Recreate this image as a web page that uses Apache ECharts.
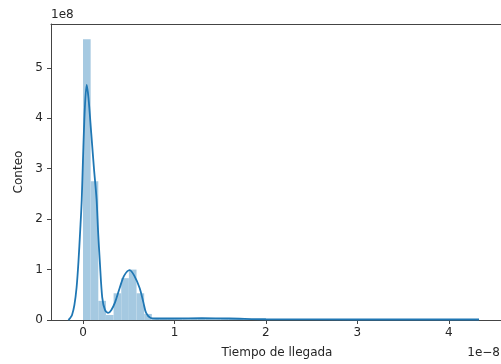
<!DOCTYPE html>
<html>
<head>
<meta charset="utf-8">
<script src="https://cdn.jsdelivr.net/npm/echarts@6/dist/echarts.min.js"></script>
<style>
  html, body { margin: 0; padding: 0; background: #fff; }
  #chart { width: 501px; height: 364px; }
</style>
</head>
<body>
<div id="chart"></div>
<script>
// histogram: 50 bins starting at 0 (units of 1e-8), counts in units of 1e8
const binStart = 0;
const binWidth = 0.0836;
const binCounts = [
  5.57, 2.75, 0.38, 0.1, 0.53, 0.83, 1.0, 0.53, 0.12, 0.03,
  0.03, 0.03, 0.03, 0.03, 0.04, 0.04, 0.04, 0.04, 0.03, 0.03,
  0.02, 0.02, 0.02, 0.02, 0.015, 0.015, 0.01, 0.01, 0.01, 0.01,
  0.01, 0.01, 0.01, 0.01, 0.01, 0.01, 0.01, 0.01, 0.01, 0.01,
  0.01, 0.01, 0.01, 0.01, 0.01, 0.01, 0.01, 0.01, 0.01, 0.01
];

// KDE curve
const kdeX = [-0.16, -0.14, -0.12, -0.094, -0.07, -0.05, -0.03, -0.014, 0.0, 0.02, 0.04, 0.06, 0.09, 0.12, 0.148, 0.165, 0.184, 0.21, 0.24, 0.275, 0.31, 0.35, 0.40, 0.45, 0.51, 0.56, 0.62, 0.66, 0.69, 0.74, 0.8, 1.0, 1.3, 1.6, 2.0, 3.0, 4.0, 4.33];
const kdeY = [0, 0.04, 0.1, 0.3, 0.65, 1.15, 1.8, 2.38, 3.2, 4.2, 4.66, 4.4, 3.7, 3.0, 2.4, 1.75, 1.15, 0.45, 0.2, 0.14, 0.2, 0.35, 0.63, 0.88, 0.99, 0.88, 0.63, 0.35, 0.14, 0.04, 0.03, 0.03, 0.035, 0.03, 0.015, 0.01, 0.01, 0.01];

const xTicks = [0, 1, 2, 3, 4];
const yTicks = [0, 1, 2, 3, 4, 5];

let myChart = echarts.init(document.getElementById("chart"));

const histData = binCounts.map((c, i) => [binStart + i * binWidth, binStart + (i + 1) * binWidth, c]);
const kdeData = kdeX.map((x, i) => [x, kdeY[i]]);

const txt = "#262626";
const axisCol = "#444";
const font = "DejaVu Sans";

myChart.setOption({
  animation: false,
  grid: { left: 51, top: 24, width: 454, height: 296 },
  xAxis: [
    {
      type: "value", min: -0.35, max: 4.57,
      axisLine: { show: true, onZero: false, lineStyle: { color: axisCol } },
      axisTick: { show: true, length: 4, lineStyle: { color: axisCol }, customValues: xTicks },
      axisLabel: { color: txt, fontSize: 12, fontFamily: font, margin: 7, customValues: xTicks },
      splitLine: { show: false }
    },
    {
      // top spine only
      type: "value", position: "top", min: -0.35, max: 4.57,
      axisLine: { show: true, onZero: false, lineStyle: { color: axisCol } },
      axisTick: { show: false }, axisLabel: { show: false }, splitLine: { show: false }
    }
  ],
  yAxis: {
    type: "value", min: 0, max: 5.87,
    axisLine: { show: true, onZero: false, lineStyle: { color: axisCol } },
    axisTick: { show: true, length: 4, lineStyle: { color: axisCol }, customValues: yTicks },
    axisLabel: { color: txt, fontSize: 12, fontFamily: font, margin: 8, customValues: yTicks },
    splitLine: { show: false }
  },
  graphic: [
    { type: "text", left: 51, top: 9, style: { text: "1e8", fill: txt, font: "12px DejaVu Sans" } },
    { type: "text", x: 500, y: 353, style: { text: "1e\u22128", fill: txt, font: "12px DejaVu Sans", textAlign: "right", textVerticalAlign: "middle" } },
    { type: "text", x: 277, y: 353, style: { text: "Tiempo de llegada", fill: txt, font: "12px DejaVu Sans", textAlign: "center", textVerticalAlign: "middle" } },
    { type: "text", x: 19, y: 172, rotation: Math.PI / 2, style: { text: "Conteo", fill: txt, font: "12px DejaVu Sans", textAlign: "center", textVerticalAlign: "middle" } }
  ],
  series: [
    {
      type: "custom",
      data: histData,
      z: 2,
      renderItem: (params, api) => {
        const p0 = api.coord([api.value(0), api.value(2)]);
        const p1 = api.coord([api.value(1), 0]);
        return {
          type: "rect",
          shape: { x: p0[0], y: p0[1], width: p1[0] - p0[0], height: p1[1] - p0[1] },
          style: { fill: "#a5c9e1" }
        };
      }
    },
    {
      type: "line",
      data: kdeData,
      z: 3,
      smooth: 0.3,
      showSymbol: false,
      lineStyle: { color: "#1f77b4", width: 1.8 }
    }
  ]
});
</script>
</body>
</html>
